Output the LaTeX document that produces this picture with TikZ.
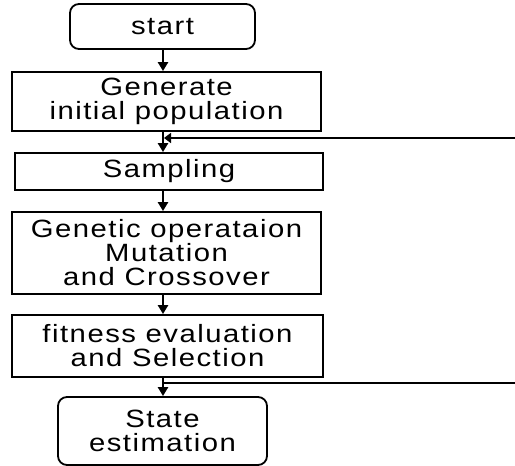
\documentclass[tikz,border=0pt]{standalone}
\usepackage{fontspec}
\setmainfont{Liberation Sans}[FakeStretch=1.17,LetterSpace=6]
\usetikzlibrary{arrows.meta}
\begin{document}
\begin{tikzpicture}[x=1pt,y=-1pt,
  box/.style={draw=black,line width=1.8pt,inner sep=0pt,align=center,
    font=\fontsize{25}{24}\selectfont},
  term/.style={box,rounded corners=9pt},
  flow/.style={line width=2.4pt,-{Triangle[length=9pt,width=10pt]}},
  back/.style={line width=1.5pt}]
\useasboundingbox (0,0) rectangle (515,466);
\fill[white] (0,0) rectangle (515,466);
\node[term,minimum width=185pt,minimum height=45pt] (start) at (162.5,26.5) {start};
\node[box,minimum width=309pt,minimum height=59pt] (gen) at (166.5,101.5) {Generate\\initial population};
\node[box,minimum width=308pt,minimum height=37pt] (samp) at (169,171.5) {Sampling};
\node[box,minimum width=309pt,minimum height=82pt] (gop) at (166.5,253) {Genetic operataion\\Mutation\\and Crossover};
\node[box,minimum width=311pt,minimum height=62pt] (fit) at (167.5,346) {fitness evaluation\\and Selection};
\node[term,minimum width=209pt,minimum height=68pt] (state) at (162.5,431) {State\\estimation};
\coordinate (fb) at (515,138);
\coordinate (fe) at (515,383);
\coordinate (ax) at (163,0);
\draw[flow] (ax |- start.south) -- (ax |- gen.north);
\draw[flow] (ax |- gen.south) -- (ax |- samp.north);
\draw[flow] (ax |- samp.south) -- (ax |- gop.north);
\draw[flow] (ax |- gop.south) -- (ax |- fit.north);
\draw[flow] (ax |- fit.south) -- (ax |- state.north);
\draw[back,-{Triangle[length=7pt,width=10pt]}] (fb) -- ([xshift=1pt]ax |- fb);
\draw[back] (fe) -- ([xshift=1pt]ax |- fe);
\end{tikzpicture}
\end{document}
